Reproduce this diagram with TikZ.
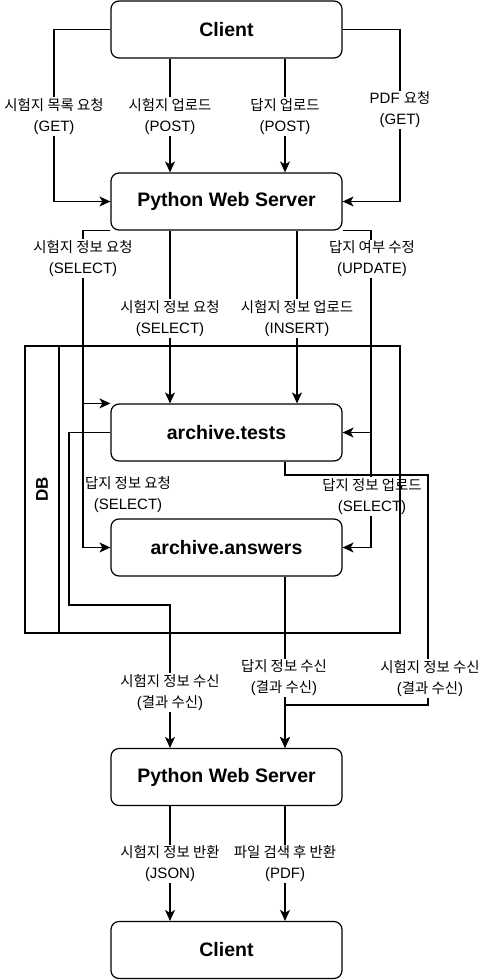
\documentclass[tikz,border=0pt]{standalone}
\usepackage{fontspec}
\setmainfont{Liberation Sans}
\newfontfamily\kr[Scale=0.96]{Noto Sans CJK KR}
\usetikzlibrary{arrows.meta}
\begin{document}
\begin{tikzpicture}[x=1pt,y=-1pt,
  box/.style={draw, line width=1.2pt, rounded corners=8pt, minimum width=231pt, minimum height=57pt, inner sep=0pt, font=\bfseries\fontsize{19.5}{22}\selectfont},
  wire/.style={line width=1.2pt},
  conn/.style={line width=1.2pt, -{Stealth[length=11pt,width=10pt,inset=3pt]}},
  lbl/.style={fill=white, align=center, inner sep=1pt, font=\fontsize{15}{21}\selectfont}]
\useasboundingbox (0,0) rectangle (484,980);

% boxes
\node[box] (c1) at (226.5,29.5) {Client};
\node[box] (pws1) at (226.5,201.5) {Python Web Server};
\node[box] (tests) at (226.5,432.5) {archive.tests};
\node[box] (answers) at (226.5,547.5) {archive.answers};
\node[box] (pws2) at (226.5,777) {Python Web Server};
\node[box] (c2) at (226.5,950) {Client};

% helper coordinates
\coordinate (xa) at (170,0);
\coordinate (xb) at (285,0);
\coordinate (xc) at (297,0);
\coordinate (p1) at (54,116.5);
\coordinate (p4) at (400,110);
\coordinate (k5) at (83,300);
\coordinate (k8) at (371,300);
\coordinate (r1) at (428,475);
\coordinate (r2) at (428,705);
\coordinate (s1) at (69,605);

% connectors
\draw[conn] (c1.west) -| (p1) |- (pws1.west);
\draw[conn] (c1.south -| xa) -- (pws1.north -| xa);
\draw[conn] (c1.south -| xb) -- (pws1.north -| xb);
\draw[conn] (c1.east) -| (p4) |- (pws1.east);

\draw[conn] (pws1.south west) -| (k5) |- (tests.north west);
\draw[conn] (pws1.south west) -| (k5) |- (answers.west);
\draw[conn] (pws1.south -| xa) -- (tests.north -| xa);
\draw[conn] (pws1.south -| xc) -- (tests.north -| xc);
\draw[conn] (pws1.south east) -| (k8) |- (tests.east);
\draw[conn] (pws1.south east) -| (k8) |- (answers.east);

\draw[conn] (tests.south -| xb) |- (r1) -- (r2) -| (pws2.north -| xb);
\draw[conn] (answers.south -| xb) -- (pws2.north -| xb);
\draw[conn] (tests.west) -| (s1) -| (pws2.north -| xa);

\draw[conn] (pws2.south -| xa) -- (c2.north -| xa);
\draw[conn] (pws2.south -| xb) -- (c2.north -| xb);

% labels
\node[lbl] (L1) at (54,116.5) {{\kr 시험지 목록 요청}\\(GET)};
\node[lbl] (L2) at (170,116.5) {{\kr 시험지 업로드}\\(POST)};
\node[lbl] (L3) at (285,116.5) {{\kr 답지 업로드}\\(POST)};
\node[lbl] (L4) at (400,110) {PDF {\kr 요청}\\(GET)};
\node[lbl] (L5) at (83,258.5) {{\kr 시험지 정보 요청}\\(SELECT)};
\node[lbl] (L6) at (170,318.5) {{\kr 시험지 정보 요청}\\(SELECT)};
\node[lbl] (L7) at (297,318.5) {{\kr 시험지 정보 업로드}\\(INSERT)};
\node[lbl] (L8) at (372,259) {{\kr 답지 여부 수정}\\(UPDATE)};
\node[lbl] (L5b) at (128,494.5) {{\kr 답지 정보 요청}\\(SELECT)};
\node[lbl] (L8b) at (372,496.5) {{\kr 답지 정보 업로드}\\(SELECT)};
\node[lbl] (L9) at (430,678.5) {{\kr 시험지 정보 수신}\\({\kr 결과 수신})};
\node[lbl] (L10) at (284,678) {{\kr 답지 정보 수신}\\({\kr 결과 수신})};
\node[lbl] (L11) at (170,692.5) {{\kr 시험지 정보 수신}\\({\kr 결과 수신})};
\node[lbl] (L12) at (170,864) {{\kr 시험지 정보 반환}\\(JSON)};
\node[lbl] (L13) at (285,864) {{\kr 파일 검색 후 반환}\\(PDF)};

% DB container
\draw[wire] (25,346) rectangle (400,633);
\draw[wire] (59,346) -- (59,633);
\node[rotate=90, font=\bfseries\fontsize{17}{20}\selectfont] (db) at (42,489) {DB};
\end{tikzpicture}
\end{document}
